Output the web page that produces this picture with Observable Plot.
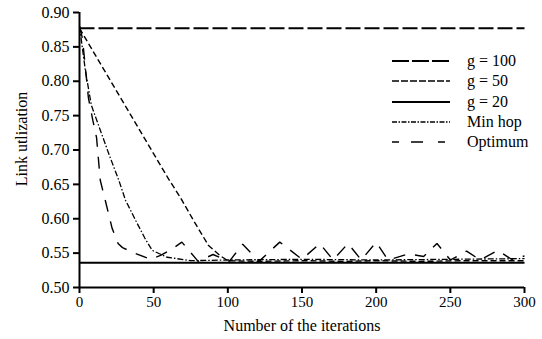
<!DOCTYPE html>
<html>
<head>
<meta charset="utf-8">
<script src="https://cdn.jsdelivr.net/npm/d3@7"></script>
<script src="https://cdn.jsdelivr.net/npm/@observablehq/plot@0.6"></script>
<style>
  html, body { margin: 0; padding: 0; background: #fff; }
  #wrap { position: relative; width: 542px; height: 339px; font-family: "Liberation Serif", "Tinos", "Times New Roman", "DejaVu Serif", serif; }
  #wrap svg text { fill: #000; font-family: "Liberation Serif", "Tinos", "Times New Roman", "DejaVu Serif", serif; }
  g[aria-label="x-axis label"] text { font-size: 16px; }
  g[aria-label="y-axis tick label"] text { font-size: 16px; }
  #legend { position: absolute; left: 392px; top: 51px; }
  .row { display: flex; align-items: center; height: 20.3px; }
  .row span { margin-left: 17px; font-size: 16px; color: #000; line-height: 20px; }
</style>
</head>
<body>
<div id="wrap"></div>
<script>
// ---- data ----
const xTicks = [0, 50, 100, 150, 200, 250, 300];
const yTicks = [0.50, 0.55, 0.60, 0.65, 0.70, 0.75, 0.80, 0.85, 0.90];
const xLabel = "Number of the iterations";
const yLabel = "Link utlization";

const seriesNames = ["g = 100", "g = 50", "g = 20", "Min hop", "Optimum"];

const g100X = [0, 300];
const g100Y = [0.877, 0.877];

const g50X = [0, 60, 68, 77, 87, 95, 100, 120, 150, 180, 200, 230, 260, 300];
const g50Y = [0.877, 0.658, 0.631, 0.597, 0.561, 0.546, 0.539, 0.538, 0.539, 0.538, 0.539, 0.538, 0.539, 0.539];

const g20X = [0, 300];
const g20Y = [0.536, 0.536];

const minHopX = [0, 4, 8, 12, 20, 26.5, 31, 38, 44, 49, 59, 75, 100, 150, 200, 250, 300];
const minHopY = [0.880, 0.815, 0.765, 0.741, 0.693, 0.656, 0.627, 0.597, 0.572, 0.554, 0.544, 0.539, 0.540, 0.541, 0.540, 0.541, 0.542];

const optX = [0, 2, 6, 9, 11.5, 14, 17, 22, 26, 29, 36, 48, 55, 63, 69, 80, 90, 101, 110, 121, 135, 150, 162, 171, 181, 190, 200, 208, 222, 232, 241, 250, 261, 270, 282, 292, 300];
const optY = [0.880, 0.862, 0.776, 0.743, 0.718, 0.656, 0.630, 0.586, 0.564, 0.558, 0.551, 0.541, 0.547, 0.557, 0.566, 0.538, 0.548, 0.538, 0.563, 0.538, 0.566, 0.541, 0.564, 0.540, 0.564, 0.540, 0.566, 0.540, 0.549, 0.545, 0.564, 0.540, 0.553, 0.540, 0.554, 0.540, 0.546];

// ---- styles ----
const styles = {
  "g = 100": {dash: "15,4", width: 2},
  "g = 50": {dash: "6,3", width: 1.4},
  "g = 20": {dash: null, width: 2.2},
  "Min hop": {dash: "6,2,1.5,2", width: 1.3},
  "Optimum": {dash: "12,10", width: 1.4}
};
const legendDash = {
  "g = 100": "17,3",
  "g = 50": "7,2",
  "g = 20": null,
  "Min hop": "5,1.5,1.5,1.5",
  "Optimum": "7,12,12,15"
};

const toRows = (xs, ys, name) => xs.map((x, i) => ({x, y: ys[i], name}));
const seriesData = {
  "g = 100": toRows(g100X, g100Y, "g = 100"),
  "g = 50": toRows(g50X, g50Y, "g = 50"),
  "g = 20": toRows(g20X, g20Y, "g = 20"),
  "Min hop": toRows(minHopX, minHopY, "Min hop"),
  "Optimum": toRows(optX, optY, "Optimum")
};

const lineMarks = seriesNames.map(n => Plot.line(seriesData[n], {
  x: "x", y: "y", stroke: "black", strokeWidth: styles[n].width,
  strokeDasharray: styles[n].dash || undefined, strokeLinejoin: "miter", strokeLinecap: "butt"
}));

const chart = Plot.plot({
  width: 542,
  height: 339,
  marginLeft: 79,
  marginRight: 18,
  marginTop: 12,
  marginBottom: 52,
  style: {fontFamily: "'Liberation Serif', 'DejaVu Serif', serif", fontSize: "15px", color: "black", background: "white"},
  x: {domain: [0, 300]},
  y: {domain: [0.5, 0.9]},
  marks: [
    Plot.axisX({ticks: xTicks, tickSize: 6, tickPadding: 3, strokeWidth: 2, label: xLabel, labelAnchor: "center", labelArrow: "none", labelOffset: 43}),
    Plot.axisY({ticks: yTicks, tickSize: 6, tickPadding: 4, strokeWidth: 2, tickFormat: d3.format(".2f"), label: null}),
    Plot.text([yLabel], {frameAnchor: "left", rotate: -90, dx: -58, dy: -11, fontSize: 16, fill: "black", textAnchor: "middle", lineAnchor: "middle"}),
    Plot.ruleY([0.5], {strokeWidth: 2}),
    Plot.ruleX([0], {strokeWidth: 2}),
    ...lineMarks
  ]
});

const wrap = document.getElementById("wrap");
wrap.appendChild(chart);

// legend
const legend = document.createElement("div");
legend.id = "legend";
seriesNames.forEach(n => {
  const row = document.createElement("div");
  row.className = "row";
  const sw = d3.create("svg").attr("width", 58).attr("height", 20);
  sw.append("line").attr("x1", 0).attr("x2", 58).attr("y1", 10).attr("y2", 10)
    .attr("stroke", "black").attr("stroke-width", styles[n].width)
    .attr("stroke-dasharray", legendDash[n]);
  row.appendChild(sw.node());
  const t = document.createElement("span");
  t.textContent = n;
  row.appendChild(t);
  legend.appendChild(row);
});
wrap.appendChild(legend);
</script>
</body>
</html>
